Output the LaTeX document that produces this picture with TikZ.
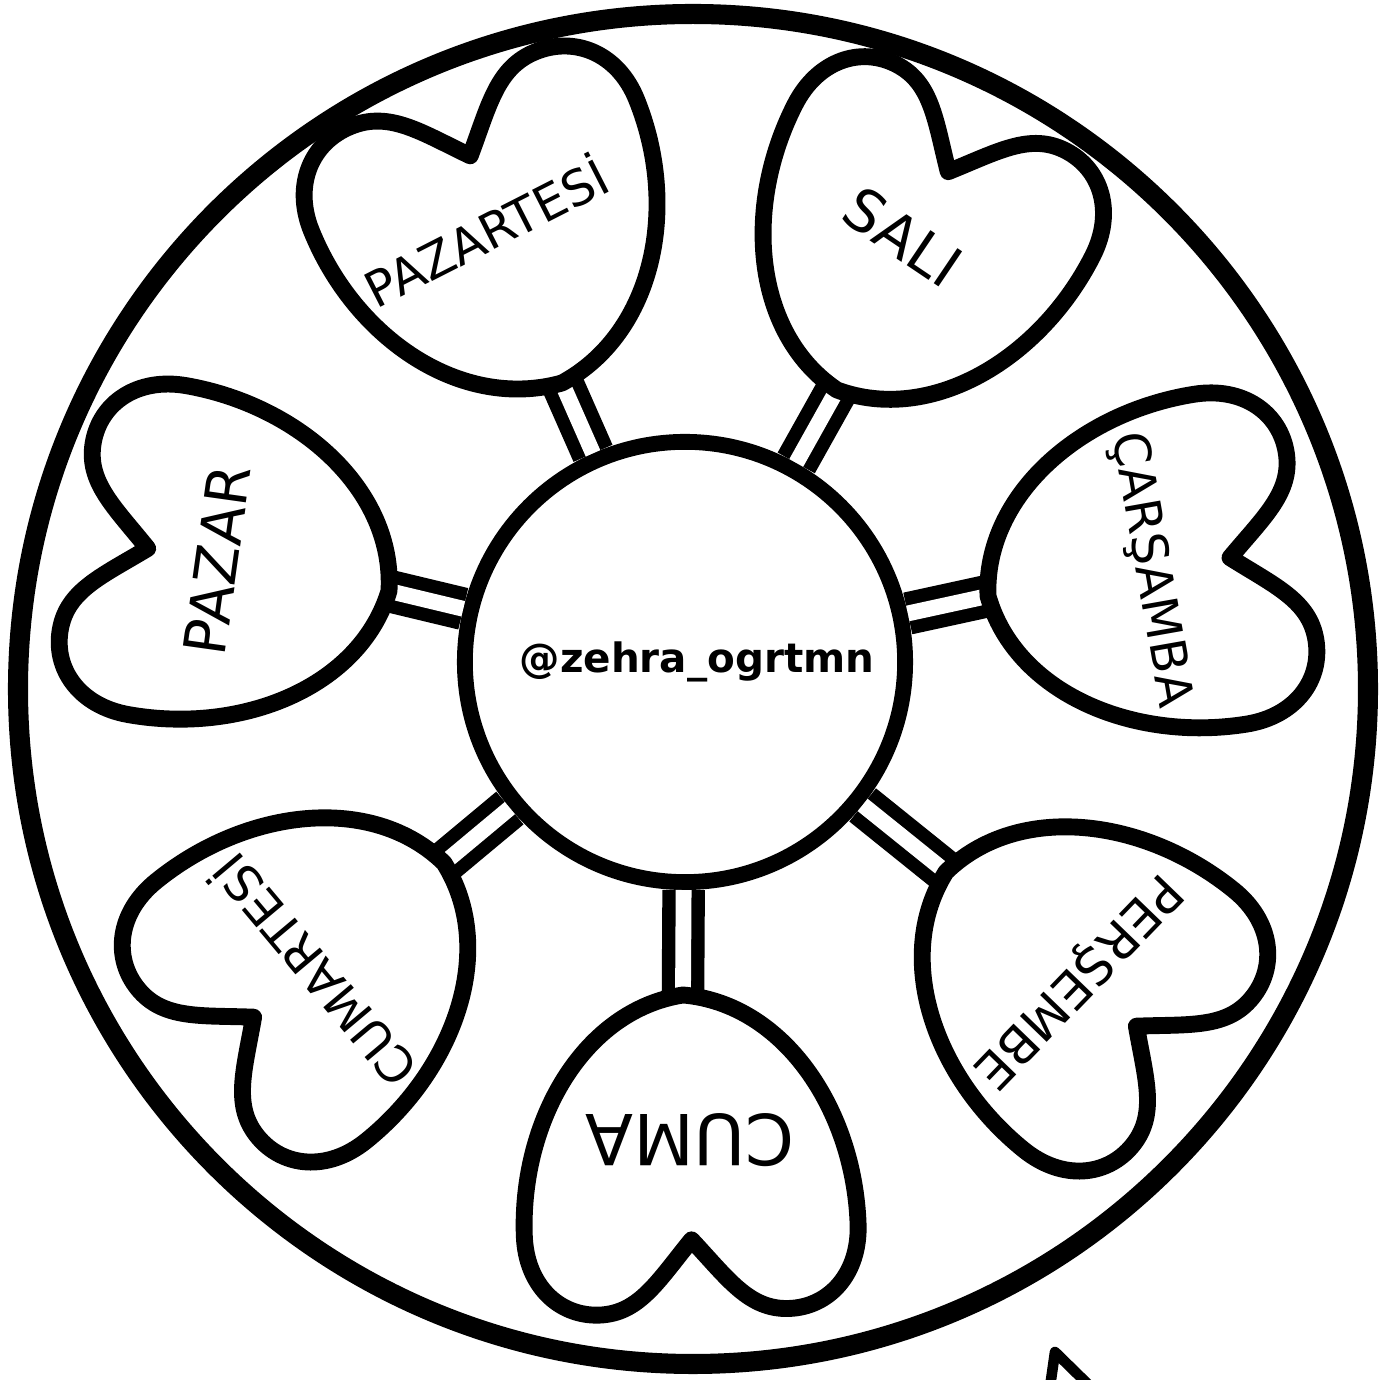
\documentclass[tikz,border=0pt]{standalone}
\usepackage{fontspec}
\setmainfont{DejaVu Sans}

\tikzset{
  heart/.pic={
    \draw[line width=4.8pt, line join=round, fill=white]
      (0,0) .. controls (12,100) and (120,167) .. (235,167)
      .. controls (285,167) and (317,135) .. (317,95)
      .. controls (317,55) and (285,35) .. (245,0)
      .. controls (285,-35) and (317,-55) .. (317,-95)
      .. controls (317,-135) and (285,-167) .. (235,-167)
      .. controls (120,-167) and (12,-100) .. (0,0) -- cycle;
  }
}

\begin{document}
\begin{tikzpicture}[x=0.01cm, y=0.01cm,
  stem/.style={line width=3.8pt, double, double distance=4.5pt},
  day/.style={inner sep=0pt, font=\fontsize{#1}{#1}\selectfont}]
\useasboundingbox (-693,-691) rectangle (701,689);

\draw[line width=5.7pt] (0,0) circle (675);

\node[circle, draw, line width=4.5pt, minimum size=4.4cm, inner sep=0pt] (hub) at (-8,27) {};
\node[inner sep=0pt, font=\bfseries\fontsize{11.5}{12}\selectfont] (handle) at (4,27) {@zehra\_ogrtmn};

\coordinate (tpzt) at (-131,306);
\coordinate (tsal) at (144,299);
\coordinate (tcar) at (295,93);
\coordinate (tper) at (253,-183);
\coordinate (tcum) at (-10,-306);
\coordinate (tcmt) at (-249,-174);
\coordinate (tpaz) at (-304,98);

\foreach \t in {tpzt,tsal,tcar,tper,tcum,tcmt,tpaz}
  \draw[stem] (hub) -- (\t);

\pic[rotate=112, yscale=1.05] at (tpzt) {heart};
\pic[rotate=63] at (tsal) {heart};
\pic[rotate=9] at (tcar) {heart};
\pic[rotate=-39] at (tper) {heart};
\pic[rotate=-88] at (tcum) {heart};
\pic[rotate=-141] at (tcmt) {heart};
\pic[rotate=170] at (tpaz) {heart};

\node[day=14, rotate=27] (pzt) at (-208,459) {PAZARTESİ};
\node[day=16.5, rotate=-34] (sal) at (210,452) {SALI};
\node[day=14, rotate=-80] (car) at (457,119) {ÇARŞAMBA};
\node[day=14.5, rotate=-134] (per) at (383,-291) {PERŞEMBE};
\node[day=20, rotate=180] (cum) at (-3,-451) {CUMA};
\node[day=14, rotate=130] (cmt) at (-381,-284) {CUMARTESİ};
\node[day=16.5, rotate=82] (paz) at (-476,129) {PAZAR};

\draw[line width=3pt, line cap=round, line join=round] (356,-705) -- (362,-663) -- (410,-710);
\end{tikzpicture}
\end{document}
